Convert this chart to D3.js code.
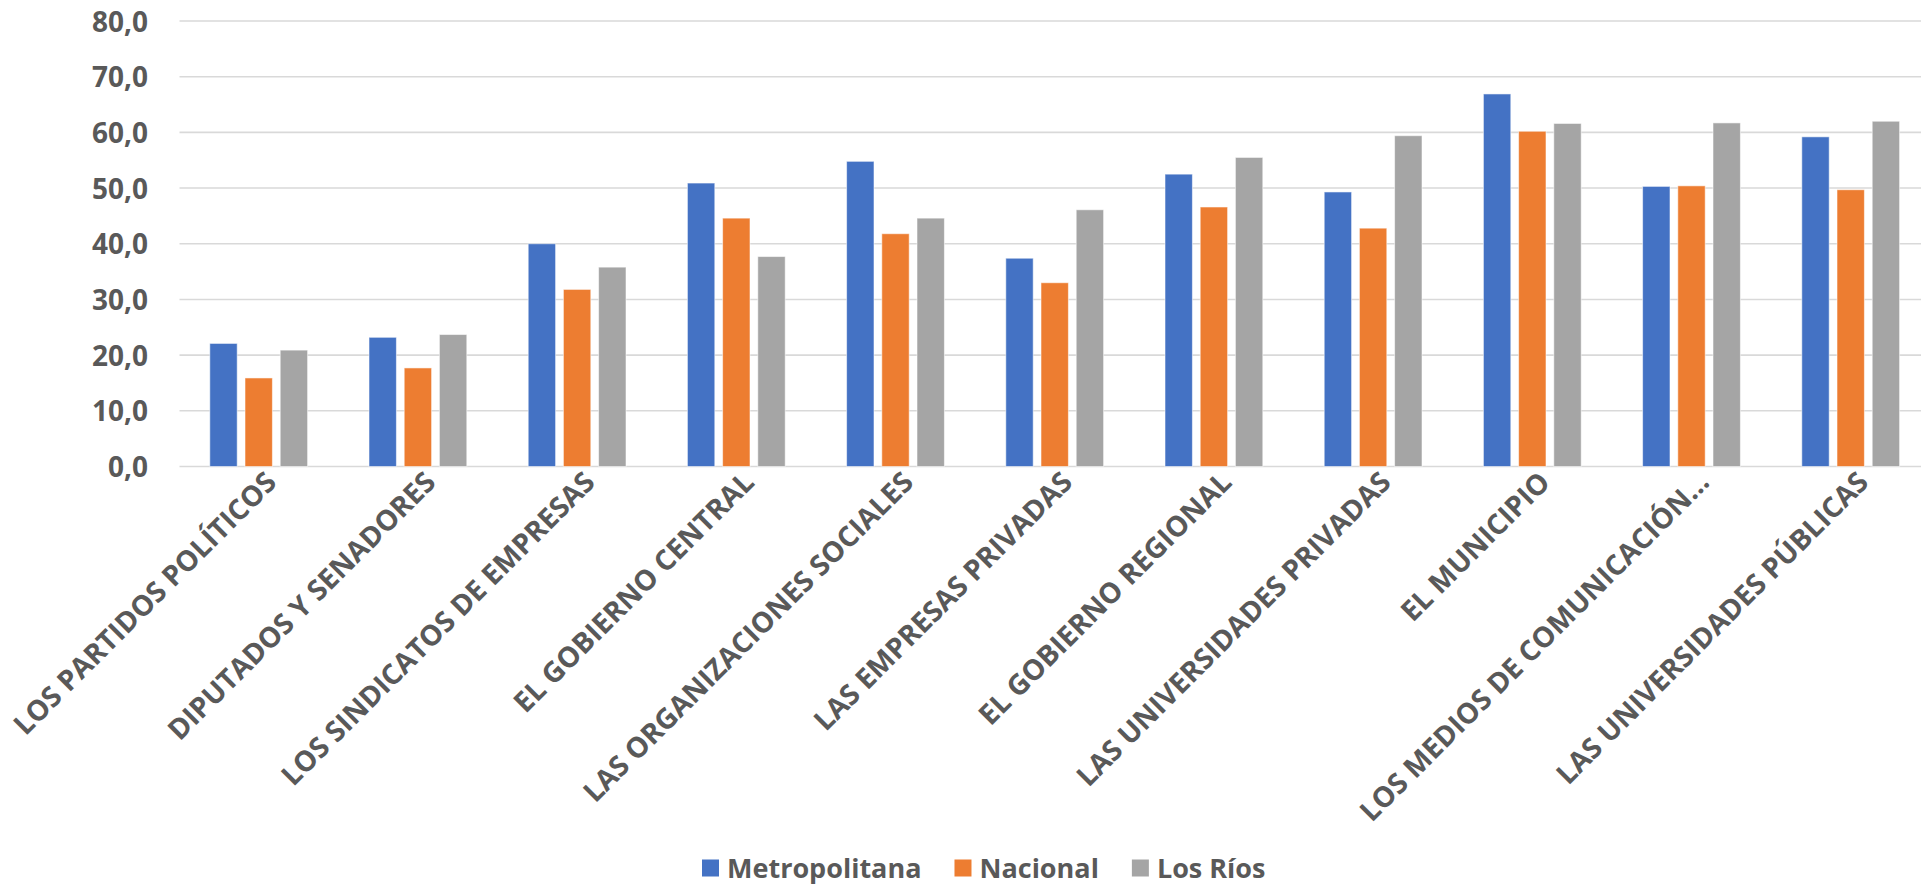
<!DOCTYPE html>
<html>
<head>
<meta charset="utf-8">
<script src="https://cdn.jsdelivr.net/npm/d3@7"></script>
<style>
  html, body { margin: 0; padding: 0; background: #fff; }
  svg { display: block; font-family: "Open Sans", "Noto Sans", sans-serif; }
</style>
</head>
<body>
<svg id="chart" width="1921" height="885"></svg>
<script>
const categories = [
  "LOS PARTIDOS POLÍTICOS",
  "DIPUTADOS Y SENADORES",
  "LOS SINDICATOS DE EMPRESAS",
  "EL GOBIERNO CENTRAL",
  "LAS ORGANIZACIONES SOCIALES",
  "LAS EMPRESAS PRIVADAS",
  "EL GOBIERNO REGIONAL",
  "LAS UNIVERSIDADES PRIVADAS",
  "EL MUNICIPIO",
  "LOS MEDIOS DE COMUNICACIÓN…",
  "LAS UNIVERSIDADES PÚBLICAS"
];
const seriesNames = ["Metropolitana", "Nacional", "Los Ríos"];
const metropolitana = [22.1, 23.2, 40.0, 50.9, 54.8, 37.4, 52.5, 49.3, 66.9, 50.3, 59.2];
const nacional      = [15.9, 17.7, 31.8, 44.6, 41.8, 33.0, 46.6, 42.8, 60.2, 50.4, 49.7];
const losRios       = [20.9, 23.7, 35.8, 37.7, 44.6, 46.1, 55.5, 59.4, 61.6, 61.7, 62.0];
const yTicks = [0, 10, 20, 30, 40, 50, 60, 70, 80];
const colors = ["#4472C4", "#ED7D31", "#A5A5A5"];

const seriesValues = [metropolitana, nacional, losRios];
const rows = categories.map((c, i) => ({ cat: c, vals: seriesValues.map(s => s[i]) }));

const svg = d3.select("#chart");
const left = 179.5, step = 159.2;
const right = left + step * categories.length;
const yBase = 466.5, yTop = 21;

const x = d3.scaleBand().domain(categories).range([left, right]).padding(0);
const groupOffset = 30.3, barStep = 35.2, barW = 27.4;
const x1 = d3.scaleBand().domain(seriesNames)
  .range([groupOffset, groupOffset + barStep * 3 - (barStep - barW)])
  .paddingInner((barStep - barW) / barStep).paddingOuter(0);
const y = d3.scaleLinear().domain([0, 80]).range([yBase, yTop]);

const locale = d3.formatLocale({ decimal: ",", thousands: ".", grouping: [3], currency: ["", "€"] });
const fmt = locale.format(".1f");

// gridlines
svg.append("g").selectAll("line").data(yTicks).join("line")
  .attr("x1", left).attr("x2", right)
  .attr("y1", d => y(d)).attr("y2", d => y(d))
  .attr("stroke", "#D9D9D9").attr("stroke-width", 1.6);

// y axis labels
const yAxis = d3.axisLeft(y).tickValues(yTicks).tickFormat(fmt).tickSize(0).tickPadding(0);
const ya = svg.append("g").attr("transform", `translate(148,0)`).call(yAxis);
ya.select(".domain").remove();
ya.selectAll("text")
  .attr("fill", "#595959").attr("font-size", 28).attr("font-weight", 700)
  .attr("font-family", "'Open Sans', sans-serif").attr("dy", "0.36em");

// bars
const groups = svg.append("g").selectAll("g").data(rows).join("g")
  .attr("transform", d => `translate(${x(d.cat)},0)`);
groups.selectAll("rect").data(d => d.vals.map((v, i) => ({ name: seriesNames[i], v, i }))).join("rect")
  .attr("x", d => x1(d.name))
  .attr("width", x1.bandwidth())
  .attr("y", d => y(d.v))
  .attr("height", d => yBase - y(d.v))
  .attr("fill", d => colors[d.i])
  .attr("stroke", "rgba(255,255,255,0.55)").attr("stroke-width", 1);

// x axis labels (rotated)
svg.append("g").selectAll("text").data(categories).join("text")
  .attr("transform", d => `translate(${x(d) + x.bandwidth() / 2 + 12},${477}) rotate(-45)`)
  .attr("text-anchor", "end")
  .attr("dy", "0.35em")
  .attr("fill", "#595959").attr("font-size", 28.3).attr("font-weight", 700)
  .text(d => d);

// legend
const legend = svg.append("g").attr("transform", "translate(702,868)");
let lx = 0;
seriesNames.forEach((name, i) => {
  legend.append("rect").attr("x", lx).attr("y", -8.5).attr("width", 17).attr("height", 17).attr("fill", colors[i]);
  const t = legend.append("text").attr("x", lx + 25).attr("y", 0).attr("dy", "0.36em")
    .attr("fill", "#595959").attr("font-size", 27).attr("font-weight", 700).text(name);
  lx += 25 + t.node().getComputedTextLength() + 33;
});
</script>
</body>
</html>
